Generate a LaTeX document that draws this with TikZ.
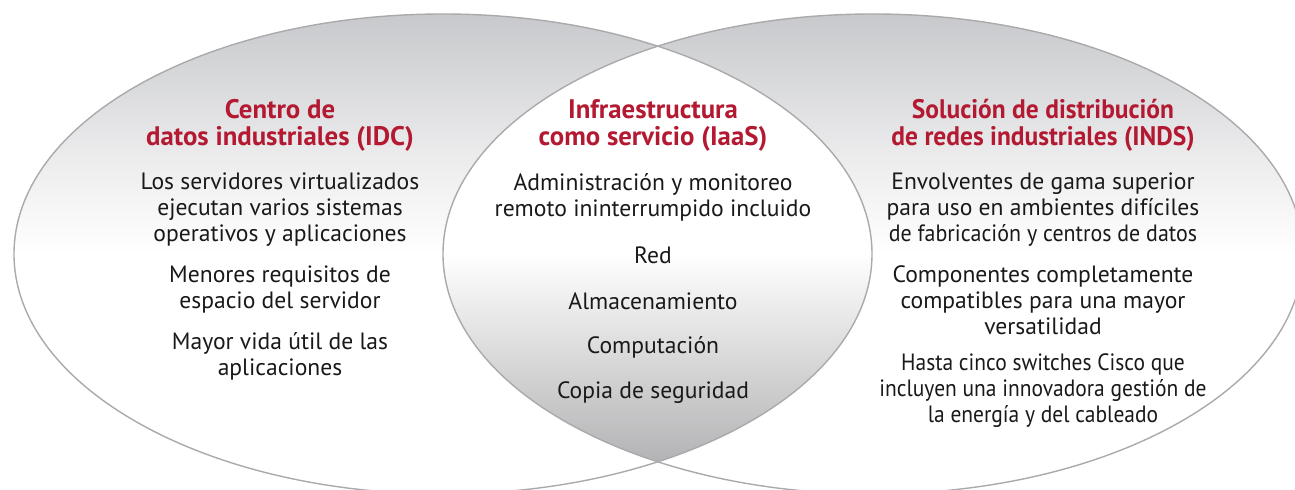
\documentclass[tikz,border=0pt]{standalone}
\usepackage{fontspec}
\setmainfont{PT Sans}

\definecolor{ciscored}{RGB}{180,25,50}
\definecolor{rimgray}{RGB}{170,170,172}
\definecolor{haze}{RGB}{200,201,204}
\definecolor{lensgray}{RGB}{178,178,180}

\pgfdeclareverticalshading{capfade}{100bp}{color(0bp)=(white); color(50bp)=(white); color(60bp)=(haze!35!white); color(75bp)=(haze); color(100bp)=(haze)}
\pgfdeclareverticalshading{lensfade}{100bp}{color(0bp)=(lensgray); color(28bp)=(lensgray); color(38bp)=(lensgray!55!white); color(50bp)=(white); color(100bp)=(white)}

\tikzstyle{head}=[text=ciscored,font=\bfseries\fontsize{13.4}{13.5}\selectfont,align=center,inner sep=0]
\tikzstyle{body}=[text=black!90,font=\fontsize{11.8}{13}\selectfont,align=center,inner sep=0]
\tikzstyle{rim}=[draw=rimgray,line width=0.7pt]

\begin{document}
\begin{tikzpicture}[x=0.5pt,y=-0.5pt]

   \useasboundingbox (0,0) rectangle (1295,490);

   % Two shaded circles

   \shade[shading=capfade] (443,254) ellipse [x radius=429,y radius=240];
   \shade[shading=capfade] (873,254) ellipse [x radius=430,y radius=240];

   % Overlap

   \begin{scope}
      \clip (443,254) ellipse [x radius=429,y radius=240];
      \shade[shading=lensfade] (873,254) ellipse [x radius=430,y radius=240];
   \end{scope}

   \draw[rim] (443,254) ellipse [x radius=429,y radius=240];
   \draw[rim] (873,254) ellipse [x radius=430,y radius=240];

   % IDC

   \node[head] (idcHead) at (280,125) {Centro de\\datos industriales (IDC)};
   \node[body] (idcA) at (280,210) {Los servidores virtualizados\\ejecutan varios sistemas\\operativos y aplicaciones};
   \node[body] (idcB) at (280,290) {Menores requisitos de\\espacio del servidor};
   \node[body] (idcC) at (280,356) {Mayor vida útil de las\\aplicaciones};

   % IaaS

   \node[head] (iaasHead) at (653,125) {Infraestructura\\como servicio (IaaS)};
   \node[body] (iaasA) at (653,197) {Administración y monitoreo\\remoto ininterrumpido incluido};
   \node[body] (iaasB) at (653,255) {Red};
   \node[body] (iaasC) at (653,301) {Almacenamiento};
   \node[body] (iaasD) at (653,347) {Computación};
   \node[body] (iaasE) at (653,393) {Copia de seguridad};

   % INDS

   \node[head] (indsHead) at (1043,125) {\addfontfeature{FakeStretch=0.95}Solución de distribución\\\addfontfeature{FakeStretch=0.95}de redes industriales (INDS)};
   \node[body] (indsA) at (1043,210) {Envolventes de gama superior\\para uso en ambientes difíciles\\{\addfontfeature{FakeStretch=0.93}de fabricación y centros de datos}};
   \node[body] (indsB) at (1043,300) {Componentes completamente\\compatibles para una mayor\\versatilidad};
   \node[body] (indsC) at (1043,391) {\addfontfeature{FakeStretch=0.91}Hasta cinco switches Cisco que\\\addfontfeature{FakeStretch=0.91}incluyen una innovadora gestión de\\\addfontfeature{FakeStretch=0.91}la energía y del cableado};

\end{tikzpicture}
\end{document}
